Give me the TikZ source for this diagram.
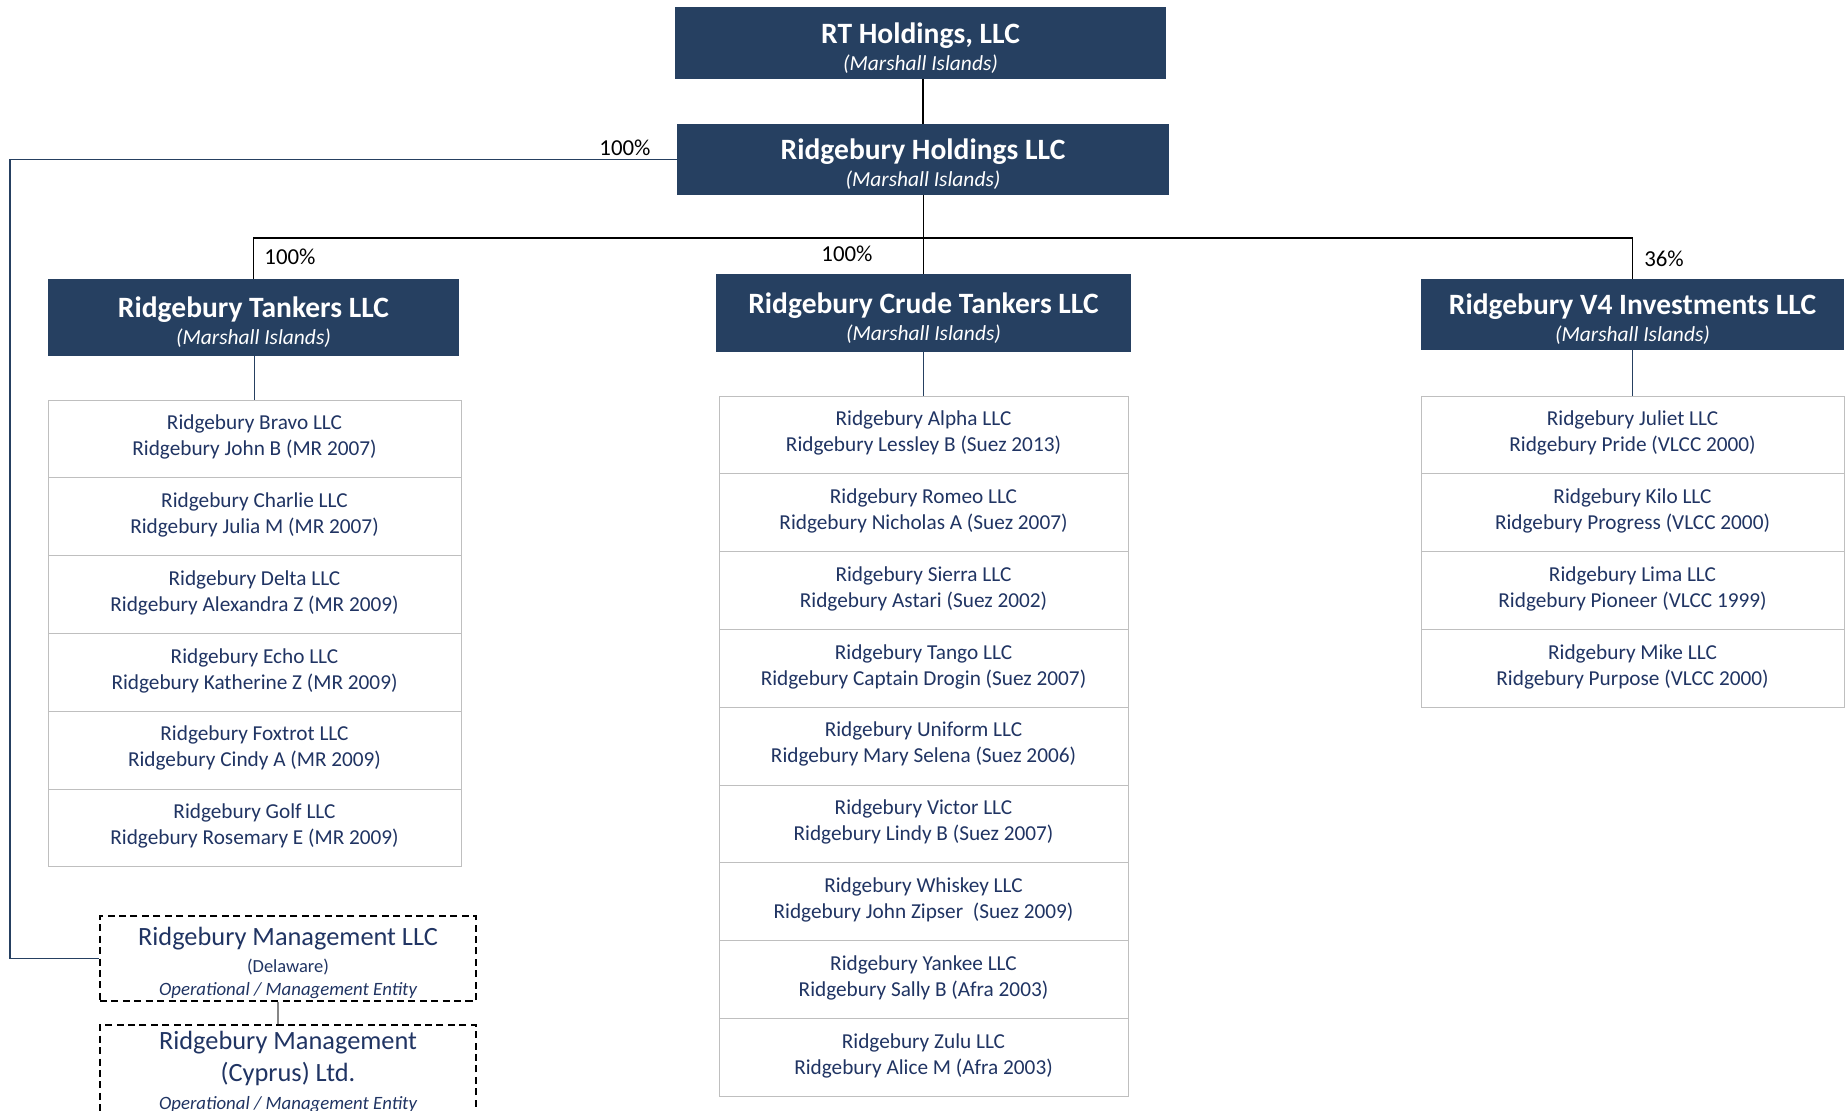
\documentclass[tikz,border=0pt]{standalone}
\usepackage{fontspec}
\setmainfont{Carlito}
\usetikzlibrary{positioning,calc}
\definecolor{boxnavy}{RGB}{38,64,97}
\definecolor{inknavy}{RGB}{32,52,99}
\definecolor{rulegrey}{RGB}{191,191,191}

\tikzset{
  entity/.style={fill=boxnavy,text=white,align=center,inner sep=0pt},
  shiprow/.style={draw=rulegrey,text=inknavy,align=center,inner sep=0pt,
    minimum height=1.556cm,font=\fontsize{12.1}{14.8}\selectfont},
  mgmtbox/.style={draw=black,dash pattern=on 4pt off 2.5pt,line width=0.9pt,
    text=inknavy,align=center,inner sep=0pt,minimum width=7.52cm,minimum height=1.7cm,
    font=\fontsize{15}{15}\selectfont},
  pct/.style={font=\fontsize{13}{15}\selectfont,inner sep=0pt},
  tie/.style={draw=boxnavy,line width=0.8pt}
}
\newcommand{\entname}[2]{{\fontsize{16.8}{17}\selectfont\bfseries\rule{0pt}{17.5pt}#1}\\[3.3pt]{\fontsize{12.2}{13}\selectfont\itshape #2}}
\newcommand{\shipline}[2]{Ridgebury #1 LLC\\Ridgebury #2\rule[-4pt]{0pt}{4pt}}

\begin{document}
\begin{tikzpicture}[x=0.02cm,y=-0.02cm]
	\clip (0,0) rectangle (1846,1111);
	\fill[white] (0,0) rectangle (1846,1111);

	% owners
	\node[entity,minimum width=9.82cm,minimum height=1.44cm] (rt) at (920.5,43) {\entname{RT Holdings, LLC}{(Marshall Islands)}};
	\node[entity,minimum width=9.84cm,minimum height=1.42cm] (holdings) at (923,159.5) {\entname{Ridgebury Holdings LLC}{(Marshall Islands)}};

	% subsidiaries
	\node[entity,minimum width=8.22cm,minimum height=1.54cm] (tankers) at (253.5,317.5) {\entname{Ridgebury Tankers LLC}{(Marshall Islands)}};
	\node[entity,minimum width=8.3cm,minimum height=1.56cm] (crude) at (923.5,313) {\entname{Ridgebury Crude Tankers LLC}{(Marshall Islands)}};
	\node[entity,minimum width=8.46cm,minimum height=1.42cm] (vfour) at (1632.5,314.5) {\entname{Ridgebury V4 Investments LLC}{(Marshall Islands)}};

	% vessel owning companies
	\foreach \co/\ve [count=\i] in {Bravo/John B (MR 2007),Charlie/Julia M (MR 2007),Delta/Alexandra Z (MR 2009),
		Echo/Katherine Z (MR 2009),Foxtrot/Cindy A (MR 2009),Golf/Rosemary E (MR 2009)}
		\node[shiprow,minimum width=8.26cm] (tk\i) at (254.5,400+77.8*\i-38.9) {\shipline{\co}{\ve}};
	\foreach \co/\ve [count=\i] in {Alpha/Lessley B (Suez 2013),Romeo/Nicholas A (Suez 2007),Sierra/Astari (Suez 2002),
		Tango/Captain Drogin (Suez 2007),Uniform/Mary Selena (Suez 2006),Victor/Lindy B (Suez 2007),
		Whiskey/John Zipser~ (Suez 2009),Yankee/Sally B (Afra 2003),Zulu/Alice M (Afra 2003)}
		\node[shiprow,minimum width=8.18cm] (cr\i) at (923.5,396+77.8*\i-38.9) {\shipline{\co}{\ve}};
	\foreach \co/\ve [count=\i] in {Juliet/Pride (VLCC 2000),Kilo/Progress (VLCC 2000),
		Lima/Pioneer (VLCC 1999),Mike/Purpose (VLCC 2000)}
		\node[shiprow,minimum width=8.46cm] (vf\i) at (1632.5,396+77.8*\i-38.9) {\shipline{\co}{\ve}};

	% management entities
	\node[mgmtbox] (mgmt) at (288,958.5) {\rule{0pt}{15.5pt}Ridgebury Management LLC\\[0.4pt]
		{\fontsize{10.5}{12}\selectfont (Delaware)}\\[-2.3pt]{\fontsize{10.7}{13}\selectfont\itshape Operational / Management Entity}};
	\node[mgmtbox,minimum height=1.88cm] (cyprus) at (288,1072) {Ridgebury Management\\[3.1pt]
		(Cyprus) Ltd.\\[1pt]{\fontsize{10.7}{13}\selectfont\itshape Operational / Management Entity}};

	% ownership lines
	\coordinate (bus) at (923,238);
	\coordinate (rail) at (10,560);
	\coordinate (link) at (278,0);
	\draw[line width=0.8pt] (holdings.north) -- (holdings.north |- rt.south);
	\draw[line width=0.8pt] (crude.north) -- (crude.north |- holdings.south);
	\draw[line width=0.8pt] (tankers.north) |- (bus) -| (vfour.north);
	\draw[tie] (holdings.west) -| (rail) |- (mgmt.west);
	\draw[rulegrey!70!black,line width=0.8pt] (mgmt.south -| link) -- (cyprus.north -| link);
	\draw[tie] (tk1.north) -- (tk1.north |- tankers.south);
	\draw[tie] (crude.south) -- (cr1.north);
	\draw[tie] (vfour.south) -- (vf1.north);

	% percentages
	\node[pct] (p1) at (625,148) {100\%};
	\node[pct] (p2) at (290,257) {100\%};
	\node[pct] (p3) at (847,254) {100\%};
	\node[pct] (p4) at (1664,259) {36\%};
\end{tikzpicture}
\end{document}
